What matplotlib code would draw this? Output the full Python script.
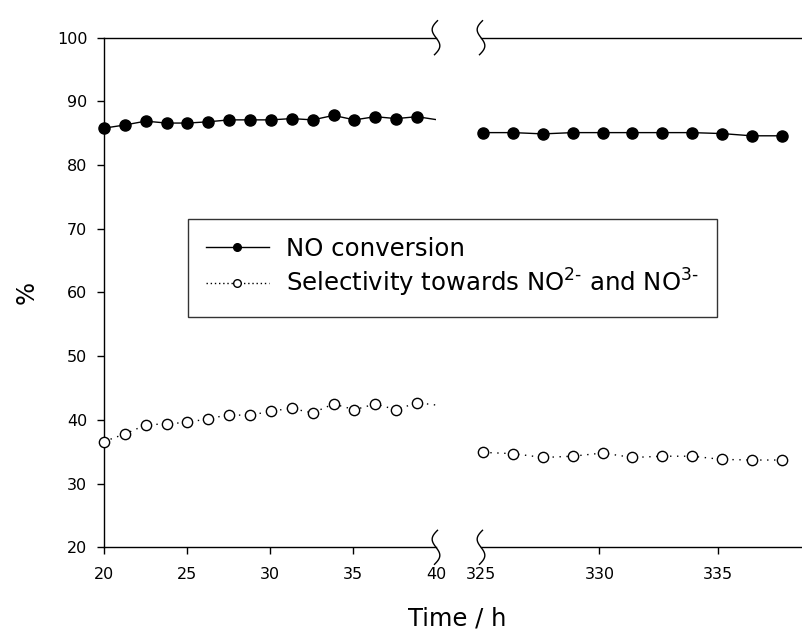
import numpy as np
import matplotlib.pyplot as plt
from matplotlib.lines import Line2D

# time on stream, first run (h); last point sits just past the break
t_early = [20.0, 21.26, 22.51, 23.77, 25.03, 26.29, 27.54, 28.80, 30.06,
           31.31, 32.57, 33.83, 35.09, 36.34, 37.60, 38.86, 40.11]
conv_early = [85.8, 86.3, 86.9, 86.6, 86.6, 86.8, 87.1, 87.1, 87.1,
              87.3, 87.1, 87.8, 87.1, 87.6, 87.3, 87.6, 87.1]
sel_early = [36.6, 37.8, 39.2, 39.4, 39.6, 40.2, 40.8, 40.7, 41.4,
             41.8, 41.1, 42.5, 41.6, 42.5, 41.6, 42.7, 42.3]

# time on stream, late period (h)
t_late = [325.1, 326.36, 327.62, 328.87, 330.14, 331.39, 332.66, 333.91,
          335.17, 336.43, 337.7]
conv_late = [85.1, 85.1, 84.9, 85.1, 85.1, 85.1, 85.1, 85.1, 84.95, 84.6, 84.6]
sel_late = [34.9, 34.7, 34.1, 34.3, 34.8, 34.1, 34.3, 34.3, 33.8, 33.7, 33.7]

ticks_early = [20, 25, 30, 35, 40]
ticks_late = [325, 330, 335]
yticks = [20, 30, 40, 50, 60, 70, 80, 90, 100]

plt.rcParams['font.family'] = ['DejaVu Sans']
plt.rcParams['mathtext.default'] = 'regular'

W, H = 802, 633
fig = plt.figure(figsize=(W / 100, H / 100), dpi=100)
bot = 1 - 547.3 / H
hgt = 509.6 / H
ax1 = fig.add_axes([104 / W, bot, 332 / W, hgt])
ax2 = fig.add_axes([481 / W, bot, 321 / W, hgt])
ax1.set_xlim(20, 40)
ax2.set_xlim(325, 325 + 321 / 23.68)


def draw_series(ax, t, c, s, tmax):
    # lines are clipped at the axes, markers are not
    ax.plot(t, c, color='k', lw=1.0)
    ax.plot(t, s, color='k', lw=1.0, linestyle=(0, (1, 4)))
    keep = [i for i, v in enumerate(t) if v <= tmax]
    tk = [t[i] for i in keep]
    ax.plot(tk, [c[i] for i in keep], 'o', color='k', ms=8, clip_on=False, zorder=5)
    ax.plot(tk, [s[i] for i in keep], 'o', mfc='white', mec='k', mew=1.0,
            ms=7.4, clip_on=False, zorder=5)


draw_series(ax1, t_early, conv_early, sel_early, 40)
draw_series(ax2, t_late, conv_late, sel_late, 400)

for ax in (ax1, ax2):
    ax.set_ylim(20, 100)
    ax.spines['right'].set_visible(False)
    for sp in ax.spines.values():
        sp.set_linewidth(1.0)
    ax.tick_params(direction='out', length=5, width=1.0, labelsize=11.5,
                   color='k', pad=9)
ax2.spines['left'].set_visible(False)
ax2.tick_params(left=False, labelleft=False)

ax1.set_xticks(ticks_early)
ax2.set_xticks(ticks_late)
ax1.set_yticks(yticks)
ax1.tick_params(axis='y', pad=7)
ax1.xaxis.get_major_ticks()[-1].tick1line.set_visible(False)
ax2.xaxis.get_major_ticks()[0].tick1line.set_visible(False)


def break_mark(ax, x, y, w_px, h_px):
    tt = np.linspace(0, 1, 60)
    dy = 17 * (1 - 2 * tt)
    dx = -4 * np.sin(2 * np.pi * tt) + 1.5 * (1 - 2 * tt) ** 3
    ax.plot(x + dx / w_px, y + dy / h_px, transform=ax.transAxes,
            color='k', lw=1.0, clip_on=False, zorder=6)


for y in (0, 1):
    break_mark(ax1, 1, y, 332, 509.6)
    break_mark(ax2, 0, y, 321, 509.6)

handles = [
    Line2D([], [], color='k', lw=1.0, marker='o', ms=5.5, mfc='k', mec='k'),
    Line2D([], [], color='k', lw=1.0, linestyle=(0, (1, 2)), marker='o',
           ms=5.5, mfc='white', mec='k', mew=1.0),
]
labels = ['NO conversion', r'Selectivity towards NO$^{2\text{-}}$ and NO$^{3\text{-}}$']
leg = fig.legend(handles, labels, loc='upper left',
                 bbox_to_anchor=(188 / W, 1 - 219 / H),
                 bbox_transform=fig.transFigure, fontsize=17.6,
                 frameon=True, fancybox=False, edgecolor='k',
                 handlelength=2.6, handletextpad=0.7, borderpad=0.72,
                 labelspacing=0.26, borderaxespad=0)
leg.get_frame().set_linewidth(1.0)
leg.set_zorder(10)

fig.text(27 / W, 1 - 292 / H, '%', rotation=90, fontsize=17.5,
         ha='center', va='center')
fig.text(457 / W, 1 - 619 / H, 'Time / h', fontsize=17.5,
         ha='center', va='center')

fig.savefig('out.png', dpi=100)
